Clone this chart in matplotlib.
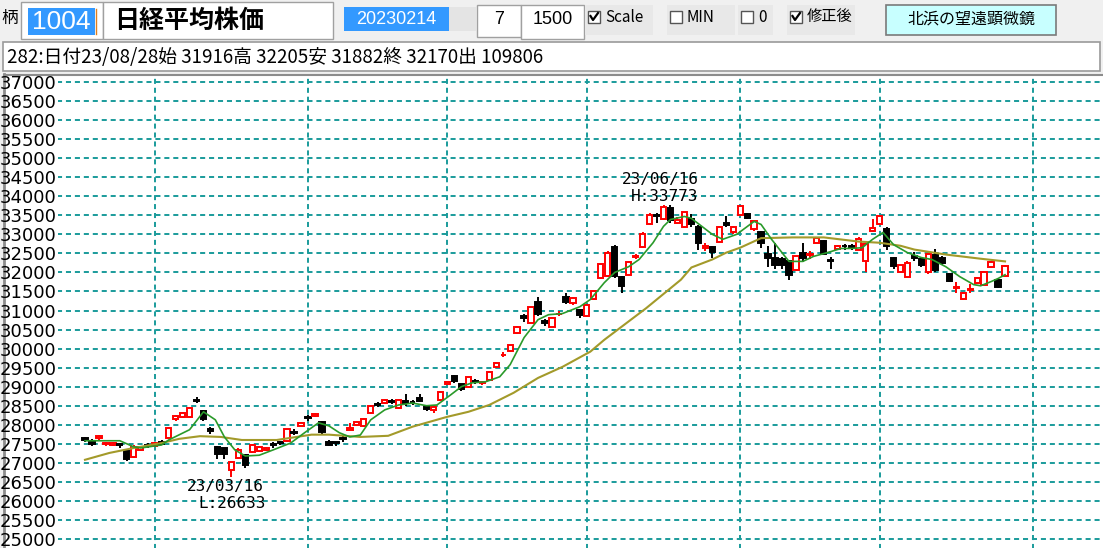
import matplotlib
matplotlib.use('Agg')
import matplotlib.pyplot as plt
from matplotlib.patches import Rectangle

# 日経平均 daily candles, 2023-02-14 .. 2023-08-28 (trading-day index 0..132)
opens = [27660, 27580, 27640, 27490, 27470, 27500, 27300, 27150, 27340, 27480,
         27440, 27540, 27660, 28150, 28200, 28200, 28660, 28350, 27900, 27420,
         27380, 26820, 27130, 27210, 27290, 27310, 27350, 27500, 27560, 27580,
         27820, 27980, 28200, 28220, 28060, 27560, 27540, 27650, 27870, 28000,
         27960, 28310, 28540, 28580, 28620, 28440, 28620, 28600, 28700, 28460,
         28380, 28640, 29080, 29280, 29060, 29000, 29160, 29100, 29180, 29520,
         29820, 29930, 30400, 30860, 30680, 31230, 30720, 30580, 30900, 31360,
         31200, 31020, 30850, 31290, 31850, 31900, 32680, 31890, 31940, 32400,
         32680, 33260, 33500, 33400, 33700, 33300, 33180, 33400, 33200, 32650,
         32660, 32810, 33310, 33050, 33520, 33530, 33130, 33050, 32480, 32390,
         32350, 32290, 32070, 32520, 32450, 32780, 32820, 32320, 32620, 32700,
         32690, 32600, 32290, 33100, 33260, 33130, 32390, 32020, 31890, 32440,
         32340, 32000, 32470, 32390, 31970, 31580, 31290, 31530, 31730, 31680,
         32150, 31810, 31916]
highs = [27680, 27620, 27720, 27560, 27560, 27520, 27330, 27470, 27450, 27520,
         27560, 27600, 27940, 28260, 28330, 28470, 28730, 28380, 27950, 27450,
         27400, 27030, 27380, 27230, 27490, 27440, 27420, 27550, 27580, 27900,
         27880, 28060, 28260, 28300, 28100, 27600, 27560, 27700, 28050, 28110,
         28170, 28520, 28600, 28680, 28680, 28670, 28800, 28650, 28800, 28520,
         28480, 28880, 29150, 29300, 29080, 29250, 29200, 29160, 29400, 29640,
         29900, 30100, 30600, 30920, 31100, 31352, 30780, 30830, 30980, 31460,
         31360, 31050, 31160, 31550, 32230, 32550, 32710, 31900, 32300, 32480,
         33050, 33550, 33560, 33773, 33760, 33450, 33600, 33540, 33250, 32760,
         32700, 33220, 33480, 33230, 33780, 33560, 33360, 33100, 32690, 32780,
         32400, 32330, 32420, 32780, 32560, 32900, 32850, 32400, 32720, 32750,
         32740, 32930, 32800, 33400, 33490, 33200, 32400, 32200, 32300, 32530,
         32380, 32480, 32620, 32420, 31990, 31760, 31480, 31700, 31870, 32030,
         32300, 31840, 32205]
lows = [27560, 27450, 27600, 27430, 27440, 27400, 27050, 27120, 27320, 27400,
        27420, 27460, 27650, 28100, 28180, 28180, 28560, 28100, 27750, 27100,
        27100, 26633, 27100, 26860, 27260, 27280, 27300, 27400, 27480, 27560,
        27730, 27960, 28100, 28200, 27770, 27440, 27450, 27550, 27850, 27980,
        27940, 28290, 28460, 28550, 28540, 28420, 28500, 28530, 28600, 28350,
        28320, 28620, 29050, 29100, 28880, 28990, 29080, 29050, 29160, 29500,
        29780, 29900, 30380, 30700, 30660, 30860, 30600, 30560, 30850, 31180,
        31150, 30800, 30820, 31270, 31830, 31880, 31850, 31470, 31920, 32350,
        32650, 33240, 33300, 33380, 33300, 33260, 33160, 33200, 32600, 32560,
        32380, 32780, 33180, 33000, 33500, 33400, 33100, 32650, 32150, 32100,
        32100, 31810, 32040, 32280, 32350, 32760, 32480, 32100, 32600, 32600,
        32600, 32580, 32020, 33050, 33240, 32600, 32100, 31990, 31870, 32300,
        32150, 31950, 32000, 32200, 31740, 31470, 31270, 31450, 31700, 31660,
        32120, 31600, 31882]
closes = [27602, 27501, 27696, 27513, 27531, 27473, 27104, 27420, 27423, 27445,
          27516, 27498, 27927, 28237, 28309, 28444, 28623, 28143, 27832, 27222,
          27229, 27010, 27333, 26945, 27466, 27419, 27385, 27476, 27518, 27883,
          27782, 28041, 28188, 28287, 27813, 27472, 27518, 27633, 27923, 28082,
          28156, 28493, 28514, 28658, 28606, 28657, 28564, 28593, 28620, 28416,
          28457, 28856, 29123, 29157, 28949, 29242, 29122, 29126, 29388, 29626,
          29842, 30093, 30573, 30808, 31086, 30900, 30680, 30801, 30916, 31233,
          31328, 30888, 31148, 31524, 32217, 32506, 31913, 31641, 32265, 32434,
          33018, 33502, 33485, 33706, 33370, 33388, 33575, 33265, 32781, 32698,
          32538, 33193, 33234, 33189, 33753, 33422, 33338, 32773, 32388, 32189,
          32203, 31943, 32419, 32391, 32493, 32896, 32490, 32304, 32700, 32682,
          32668, 32891, 32759, 33172, 33476, 32707, 32159, 32192, 32254, 32377,
          32204, 32473, 32059, 32260, 31766, 31626, 31450, 31566, 31856, 32010,
          32287, 31624, 32170]

# short average (green)
ma_s_x = [0, 5, 7, 8, 11, 12, 15, 17, 18.7, 20, 21.5, 23, 25, 27, 29.5, 31.5,
          33.5, 35, 36.5, 38, 39.5, 41, 43, 45, 47, 49, 50.5, 52.5, 54, 55.5,
          57.5, 59.5, 61, 63, 65, 66.5, 68.5, 71, 72.5, 74.5, 76, 78, 79.5,
          81.5, 83, 84, 86, 87, 88.5, 90, 91.5, 93.5, 96, 97, 98.5, 100, 101,
          103, 104.5, 106.5, 108.5, 110, 111.5, 113, 114.5, 116, 118, 120,
          121.5, 123.5, 125.5, 127.5, 128.5, 130, 131, 132]
ma_s_y = [27580, 27580, 27420, 27390, 27470, 27600, 27870, 28340, 28130, 27680,
          27340, 27180, 27200, 27340, 27520, 27790, 28050, 27970, 27790, 27680,
          27730, 28130, 28390, 28520, 28570, 28500, 28520, 28790, 29000, 29100,
          29130, 29260, 29580, 30290, 30760, 30890, 30920, 31100, 31290, 31730,
          32000, 32150, 32340, 32780, 33210, 33390, 33470, 33420, 33210, 33000,
          32870, 33000, 33340, 33260, 32870, 32520, 32290, 32290, 32420, 32520,
          32630, 32630, 32650, 32870, 33050, 32730, 32520, 32390, 32340, 32150,
          31890, 31680, 31650, 31760, 31840, 31940]

# long average (olive)
ma_l_x = [0, 3.5, 7, 11, 13.5, 16.5, 19.5, 22.5, 27.5, 32.5, 35, 39.5, 43.5,
          47, 52, 55, 58, 61.5, 65, 68.5, 72.5, 74.5, 80.5, 85.5, 87, 90, 92,
          94, 97, 101.5, 106, 111, 114, 117, 119, 123.5, 128.5, 132]
ma_l_y = [27080, 27260, 27390, 27520, 27630, 27700, 27680, 27600, 27600, 27740,
          27740, 27680, 27710, 27950, 28210, 28340, 28520, 28840, 29230, 29520,
          29920, 30230, 31060, 31810, 32130, 32340, 32520, 32650, 32900, 32920,
          32920, 32810, 32780, 32700, 32600, 32470, 32360, 32290]

month_starts = [10, 32, 52, 72, 94, 114, 136]
price_ticks = list(range(25000, 37001, 500))

W, H = 1103, 548
fig = plt.figure(figsize=(W / 100, H / 100), dpi=100)

# ---- window chrome (pixel coords) ----
bg = fig.add_axes([0, 0, 1, 1])
bg.set_xlim(0, W)
bg.set_ylim(H, 0)
bg.axis('off')
bg.add_patch(Rectangle((0, 0), W, H, fc='#f0f0f0', ec='none'))
bg.add_patch(Rectangle((5, 76), W, H, fc='white', ec='none'))
bg.plot([4, 4], [74, H], color='#8c8c8c', lw=2)
bg.plot([4, W], [75, 75], color='#8c8c8c', lw=1.5)

jp = ['Noto Sans CJK JP', 'DejaVu Sans']
bg.text(1, 18, '柄', fontsize=12, family=jp, va='center')
bg.add_patch(Rectangle((21, 2), 82, 37, fc='white', ec='#a0a0a0', lw=1))
bg.add_patch(Rectangle((28, 8), 67, 27, fc='#3399ff', ec='none'))
bg.plot([96, 96], [9, 34], color='#e08020', lw=1)
bg.text(61, 22, '1004', fontsize=19, color='white', family='Liberation Sans',
        ha='center', va='center')
bg.add_patch(Rectangle((103, 2), 230, 37, fc='white', ec='#a0a0a0', lw=1))
bg.text(114, 21, '日経平均株価', fontsize=18, family=jp, fontweight='bold', va='center')
bg.add_patch(Rectangle((344, 7), 105, 24, fc='#3399ff', ec='none'))
bg.add_patch(Rectangle((449, 7), 27, 24, fc='#e4e4e4', ec='none'))
bg.text(396, 19, '20230214', fontsize=13, color='white', family='Liberation Sans',
        ha='center', va='center')
bg.add_patch(Rectangle((477, 5), 44, 32, fc='white', ec='#a0a0a0', lw=1))
bg.text(499, 20, '7', fontsize=13, family='Liberation Sans', ha='center', va='center')
bg.add_patch(Rectangle((521, 5), 63, 34, fc='white', ec='#a0a0a0', lw=1))
bg.text(553, 20, '1500', fontsize=13, family='Liberation Sans', ha='center', va='center')

checks = [(588, True, 'Scale'), (670, False, 'MIN'), (741, False, '0'), (790, True, '修正後')]
for cx, on, lab in checks:
    bg.add_patch(Rectangle((cx - 3, 5), 68 if lab != '0' else 35, 30, fc='#e8e8e8', ec='none'))
    bg.add_patch(Rectangle((cx, 11), 12, 12, fc='white', ec='#555555', lw=1))
    if on:
        bg.plot([cx + 2.5, cx + 5, cx + 10], [16, 20, 13], color='black', lw=1.6)
    bg.text(cx + 17, 17, lab, fontsize=11, family=jp, va='center')

bg.add_patch(Rectangle((886, 5), 170, 30, fc='#c8ffff', ec='#7a7a7a', lw=1.2))
bg.text(971, 19, '北浜の望遠顕微鏡', fontsize=11.5, family=jp, ha='center', va='center')

bg.add_patch(Rectangle((3, 42), W - 6, 29, fc='white', ec='#9a9a9a', lw=1.2))
bg.text(7, 57, '282:日付23/08/28始 31916高 32205安 31882終 32170出 109806',
        fontsize=13.5, family=jp, va='center')

# ---- chart ----
left_px, top_px = 58, 76
ax = fig.add_axes([left_px / W, 0, 1 - left_px / W, (H - top_px) / H])
ax.patch.set_alpha(0)
x0, dx = 85, 6.97
ax.set_xlim((left_px - x0) / dx, (W - x0) / dx)
ax.set_ylim(25000 - 9 * 26.26, 25000 + (539 - top_px) * 26.26)
for s in ax.spines.values():
    s.set_visible(False)
ax.set_xticks([])
ax.set_yticks(price_ticks)
ax.tick_params(axis='y', length=0, pad=1)
for t in ax.get_yticklabels():
    t.set_fontfamily(['Liberation Sans Narrow', 'DejaVu Sans'])
    t.set_fontsize(13)

grid_c = '#1a9b9b'
ax.hlines(price_ticks, -4, 150, colors=grid_c, lw=1.4, linestyles=(0, (2.6, 2.0)), zorder=1)
ax.vlines(month_starts, 24000, 38000, colors=grid_c, lw=1.4, linestyles=(0, (2.6, 2.0)), zorder=1)

n = len(closes)
xs = list(range(n))
up = [c >= o for o, c in zip(opens, closes)]
wick_c = ['red' if u else 'black' for u in up]
ax.vlines(xs, lows, highs, colors=wick_c, lw=1.4, zorder=3)
ax.bar(xs, [abs(c - o) for o, c in zip(opens, closes)],
       bottom=[min(o, c) for o, c in zip(opens, closes)], width=0.76,
       color=['white' if u else 'black' for u in up],
       edgecolor=wick_c, linewidth=1.4, zorder=4)

ax.plot(ma_l_x, ma_l_y, color='#a39a2a', lw=1.5, zorder=5)
ax.plot(ma_s_x, ma_s_y, color='#2a9a2a', lw=1.2, zorder=6)

mono = 'DejaVu Sans Mono'
ax.text(82.5, 34430, '23/06/16', fontsize=11.5, family=mono, ha='center', va='center')
ax.text(83.2, 33985, 'H:33773', fontsize=11.5, family=mono, ha='center', va='center')
ax.text(20.1, 26390, '23/03/16', fontsize=11.5, family=mono, ha='center', va='center')
ax.text(21.1, 25945, 'L:26633', fontsize=11.5, family=mono, ha='center', va='center')

fig.savefig('out.png', dpi=100)
